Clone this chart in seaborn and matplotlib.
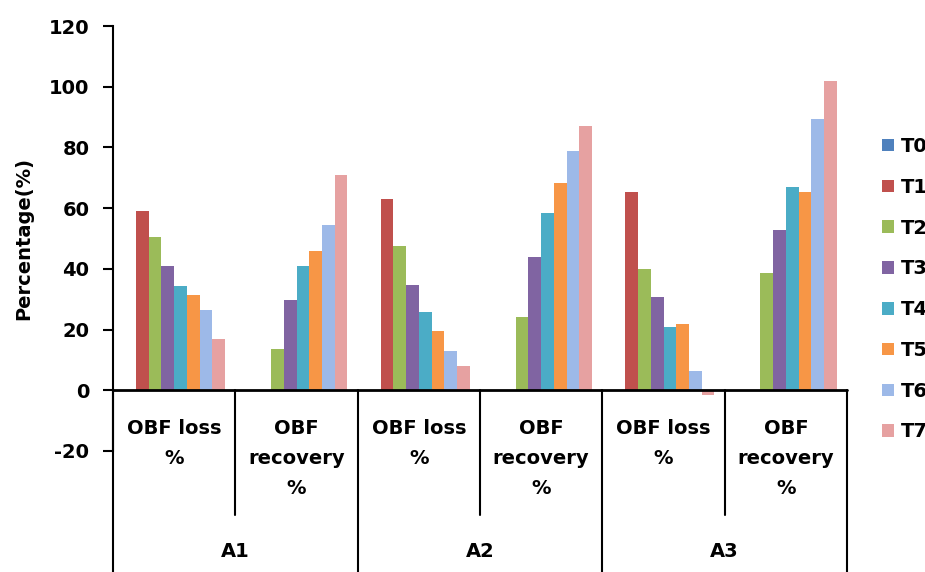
import pandas as pd
import seaborn as sns
import matplotlib.pyplot as plt

# values
groups = ["A1", "A2", "A3"]
measures = ["OBF loss %", "OBF recovery %"]
treatments = ["T0", "T1", "T2", "T3", "T4", "T5", "T6", "T7"]
colors = ["#4F81BD", "#C0504D", "#9BBB59", "#8064A2",
          "#4BACC6", "#F79646", "#9DB9E8", "#E6A1A1"]

a1_loss = [0, 58.9, 50.5, 41.0, 34.4, 31.4, 26.6, 16.9]
a1_recovery = [0, 0, 13.7, 29.8, 41.0, 46.0, 54.5, 70.9]
a2_loss = [0, 63.0, 47.5, 34.7, 25.7, 19.5, 12.9, 7.9]
a2_recovery = [0, 0, 24.0, 44.0, 58.5, 68.4, 78.7, 87.0]
a3_loss = [0, 65.4, 39.8, 30.7, 21.0, 22.0, 6.3, -1.5]
a3_recovery = [0, 0, 38.5, 52.8, 67.0, 65.4, 89.5, 102.0]

series = [a1_loss, a1_recovery, a2_loss, a2_recovery, a3_loss, a3_recovery]
cats = [g + " " + m for g in groups for m in measures]

rows = []
for cat, vals in zip(cats, series):
    for t, v in zip(treatments, vals):
        rows.append({"cat": cat, "treatment": t, "value": v})
df = pd.DataFrame(rows)

sns.set_style("white")
plt.rcParams["font.family"] = ["DejaVu Sans"]
plt.rcParams["font.weight"] = "bold"
plt.rcParams["text.color"] = "black"
plt.rcParams["ytick.color"] = "black"
plt.rcParams["axes.labelcolor"] = "black"
plt.rcParams["axes.unicode_minus"] = False

fs = 14

fig = plt.figure(figsize=(9.25, 5.72), dpi=100)
ax = fig.add_axes([113 / 925, 1 - 451 / 572, 734 / 925, 425 / 572])

sns.barplot(data=df, x="cat", y="value", hue="treatment", order=cats,
            hue_order=treatments, palette=colors, saturation=1,
            width=0.83, errorbar=None, linewidth=0, ax=ax)

ax.set_xlim(-0.5, 5.5)
ax.set_ylim(-20, 120)
ax.set_yticks(range(-20, 121, 20))
ax.tick_params(axis="y", direction="out", length=7, width=1.5, pad=10,
               labelsize=fs, left=True, colors="black")
for lab in ax.get_yticklabels():
    lab.set_fontweight("bold")
ax.set_xticks([])
ax.set_xlabel("")
ax.set_ylabel("Percentage(%)", fontsize=fs, fontweight="bold")
ax.yaxis.set_label_coords(-0.108, 0.5)

for side in ["top", "right", "bottom"]:
    ax.spines[side].set_visible(False)
ax.spines["left"].set_linewidth(1.5)
ax.spines["left"].set_color("black")

# zero line and category table below it
ax.plot([-0.5, 5.5], [0, 0], color="black", lw=2, clip_on=False)
for x in [-0.5, 1.5, 3.5, 5.5]:
    ax.plot([x, x], [0, -62], color="black", lw=1.5, clip_on=False)
for x in [0.5, 2.5, 4.5]:
    ax.plot([x, x], [0, -41.2], color="black", lw=1.5, clip_on=False)

line_y = [-12.5, -22.4, -32.3]
for i, m in enumerate(measures):
    parts = ["OBF loss", "%"] if i == 0 else ["OBF", "recovery", "%"]
    for k in range(3):
        for j, part in enumerate(parts):
            ax.text(2 * k + i, line_y[j], part, ha="center", va="center",
                    fontsize=fs, fontweight="bold", clip_on=False)
for k, g in enumerate(groups):
    ax.text(2 * k + 0.5, -53.1, g, ha="center", va="center",
            fontsize=fs, fontweight="bold", clip_on=False)

# legend runs off the right edge, as in the original
sns.move_legend(ax, loc="upper left", bbox_to_anchor=(882 / 925, 1 - 137 / 572),
                bbox_transform=fig.transFigure, frameon=False, title=None,
                prop={"size": fs, "weight": "bold"}, handlelength=0.62,
                handleheight=0.62, handletextpad=0.35, labelspacing=1.12,
                borderpad=0, borderaxespad=0)

fig.savefig("out.png", dpi=100)
